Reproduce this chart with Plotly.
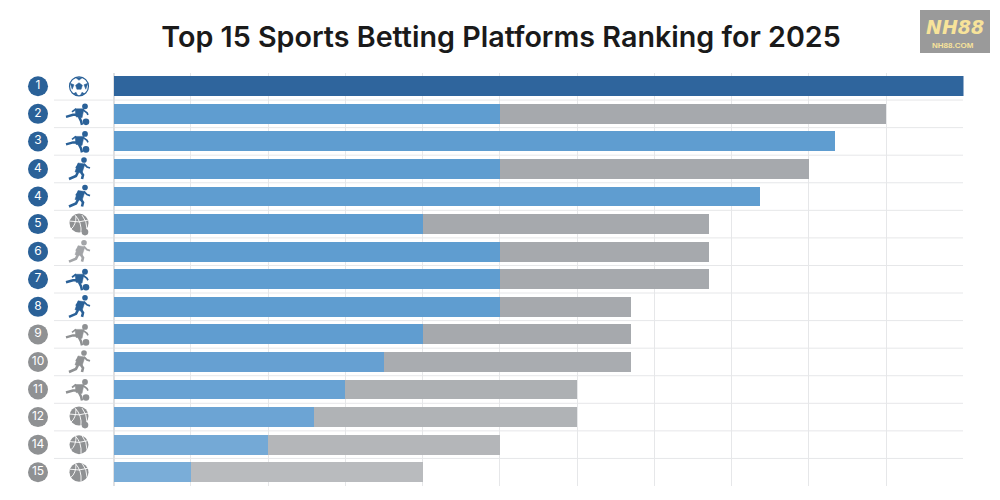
import plotly.graph_objects as go

# rows top to bottom, ranks as printed (4 twice, no 13)
ranks = ["1", "2", "3", "4", "4", "5", "6", "7", "8", "9", "10", "11", "12", "14", "15"]
blue_part = [110, 50, 93.4, 50, 83.6, 40, 50, 50, 50, 40, 35, 30, 26, 20, 10]
gray_part = [0, 50, 0, 40, 0, 37, 27, 27, 17, 27, 32, 30, 34, 30, 30]
icons = ["soccer", "kick", "kick", "run", "run2", "ball2", "run", "kick", "run2", "kick", "run", "kick", "ball2", "ball", "ball"]

BLUE = "#2a6198"
GRAY = "#8f9193"
blue_bars = ["#2f659d", "#5f9dd0", "#5f9dd0", "#5f9dd0", "#5f9dd0", "#5f9dd0", "#5f9dd0", "#5f9dd0",
             "#5f9dd0", "#609dd0", "#66a0d2", "#68a2d3", "#6ca4d4", "#74a9d6", "#7aadd8"]
gray_bars = ["#a6a9ad"] * 10 + ["#a9acb0", "#adb0b3", "#b0b3b6", "#b4b6b9", "#b9bbbe"]
circle_colors = [BLUE] * 9 + [GRAY] * 6
icon_colors = [BLUE, BLUE, BLUE, BLUE, BLUE, GRAY, "#a3a5a8", BLUE, BLUE,
               GRAY, GRAY, GRAY, GRAY, GRAY, GRAY]
rows = list(range(len(ranks)))

fig = go.Figure()
fig.add_trace(go.Bar(y=rows, x=blue_part, orientation="h", marker=dict(color=blue_bars, line_width=0)))
fig.add_trace(go.Bar(y=rows, x=gray_part, orientation="h", marker=dict(color=gray_bars, line_width=0)))
fig.add_trace(go.Scatter(x=[38] * len(rows), y=rows, xaxis="x2", mode="markers+text", text=ranks,
                         textposition="middle center",
                         textfont=dict(family="Inter", size=12, color="white"),
                         marker=dict(size=20, color=circle_colors, line_width=0)))


def stroke(row, path, color, width):
    fig.add_shape(type="path", path=path, xref="x2", yref="y", xsizemode="pixel", ysizemode="pixel",
                  xanchor=79, yanchor=row, line=dict(color=color, width=width), layer="above")


def blob(row, path, color):
    fig.add_shape(type="path", path=path, xref="x2", yref="y", xsizemode="pixel", ysizemode="pixel",
                  xanchor=79, yanchor=row, fillcolor=color, line=dict(color=color, width=0.5), layer="above")


def dot(row, cx, cy, r, fill, line=None, width=0):
    fig.add_shape(type="circle", xref="x2", yref="y", xsizemode="pixel", ysizemode="pixel",
                  xanchor=79, yanchor=row, x0=cx - r, x1=cx + r, y0=cy - r, y1=cy + r,
                  fillcolor=fill, line=dict(color=line or fill, width=width), layer="above")


def basket(row, c, cx=0, cy=0):
    dot(row, cx, cy, 9.5, c)
    for p in ["M -9 3 Q 0 1 9 4", "M -4 9 Q 3 2 2 -9", "M -8 -5 Q -3 -1 -3 8", "M 3 9 Q 8 3 8 -5"]:
        stroke(row, p, "white", 0.9)


def draw_icon(row, kind, c):
    if kind == "soccer":
        dot(row, 0, 0, 9.5, "white", c, 1.2)
        blob(row, "M 0 3.5 L 3.4 1 L 2.1 -3 L -2.1 -3 L -3.4 1 Z", c)
        blob(row, "M -3 8.5 L 3 8.5 L 0 6 Z", c)
        blob(row, "M 8.8 3 L 6.8 -3 L 5 1.5 Z", c)
        blob(row, "M -8.8 3 L -6.8 -3 L -5 1.5 Z", c)
        blob(row, "M -5.5 -7.5 L -1.5 -9 L -3 -6 Z", c)
        blob(row, "M 5.5 -7.5 L 1.5 -9 L 3 -6 Z", c)
    elif kind == "kick":
        dot(row, 6, 7.5, 2.9, c)
        dot(row, 7, -8, 3.3, c)
        blob(row, "M -4 5 L 5 5 L 3 -4 L -3 -3 Z", c)
        stroke(row, "M 4 4 L 8 1 L 9 -1", c, 1.7)
        stroke(row, "M -3 5 L -7 2", c, 1.7)
        stroke(row, "M -1 -1 L -6 -1 L -13 -3", c, 2.5)
        stroke(row, "M 0 -3 L 2 -7 L 3 -11", c, 2.5)
    elif kind == "ball2":
        basket(row, c, 0, 1)
        dot(row, 6, -8, 3.3, c)
    elif kind == "ball":
        basket(row, c)
    else:
        dx = 1 if kind == "run2" else 0
        dot(row, 5 + dx, 9, 2.8, c)
        blob(row, "M -1 6 L 6 5 L 3 -4 L -4 -3 Z", c)
        stroke(row, "M 5 5 L 8 2 L 11 1", c, 1.8)
        stroke(row, "M 0 5 L -3 1", c, 1.8)
        stroke(row, "M -1 -3 L -3 -7 L -10 -10", c, 2.6)
        stroke(row, "M 2 -3 L 4 -6 L 3 -10", c, 2.6)


for row, kind, c in zip(rows, icons, icon_colors):
    draw_icon(row, kind, c)

# separators between rows run out under the icon column
for row in rows[:-1]:
    fig.add_shape(type="line", xref="paper", yref="y", x0=0.054, x1=0.963, y0=row + 0.5, y1=row + 0.5,
                  line=dict(color="#e6e7e9", width=1), layer="below")

# watermark logo
fig.add_shape(type="rect", xref="paper", yref="paper", x0=0.92, x1=0.99, y0=0.894, y1=0.98,
              fillcolor="#9a9a9a", line_width=0, layer="above")
fig.add_annotation(text="<b><i>NH88</i></b>", xref="paper", yref="paper", x=0.955, y=0.946, showarrow=False,
                   xanchor="center", yanchor="middle",
                   font=dict(family="DejaVu Sans", size=19, color="#f7e39a"))
fig.add_annotation(text="<b>NH88.COM</b>", xref="paper", yref="paper", x=0.953, y=0.909, showarrow=False,
                   xanchor="center", yanchor="middle",
                   font=dict(family="Liberation Sans", size=8, color="#f7e39a"))

fig.update_layout(
    width=1000, height=500, barmode="stack", bargap=0.28, showlegend=False,
    margin=dict(l=0, r=0, t=0, b=0), paper_bgcolor="white", plot_bgcolor="white",
    title=dict(text="Top 15 Sports Betting Platforms Ranking for 2025", x=0.501, xanchor="center",
               y=0.926, yanchor="middle", font=dict(family="Inter", size=28.7, color="#1a1a1a", weight=600)),
    xaxis=dict(domain=[0.1135, 0.9635], range=[0, 110], dtick=10, showticklabels=False,
               gridcolor="#e6e7e9", gridwidth=1, zeroline=True, zerolinecolor="#dfe0e2", ticks=""),
    xaxis2=dict(domain=[0, 0.113], range=[0, 113], visible=False, anchor="y"),
    yaxis=dict(domain=[0.028, 0.855], range=[14.5, -0.5], showgrid=False, showticklabels=False,
               zeroline=False, ticks=""),
)

fig.write_html("out.html", config={"displayModeBar": False}, post_script="document.body.style.margin = '0';")
